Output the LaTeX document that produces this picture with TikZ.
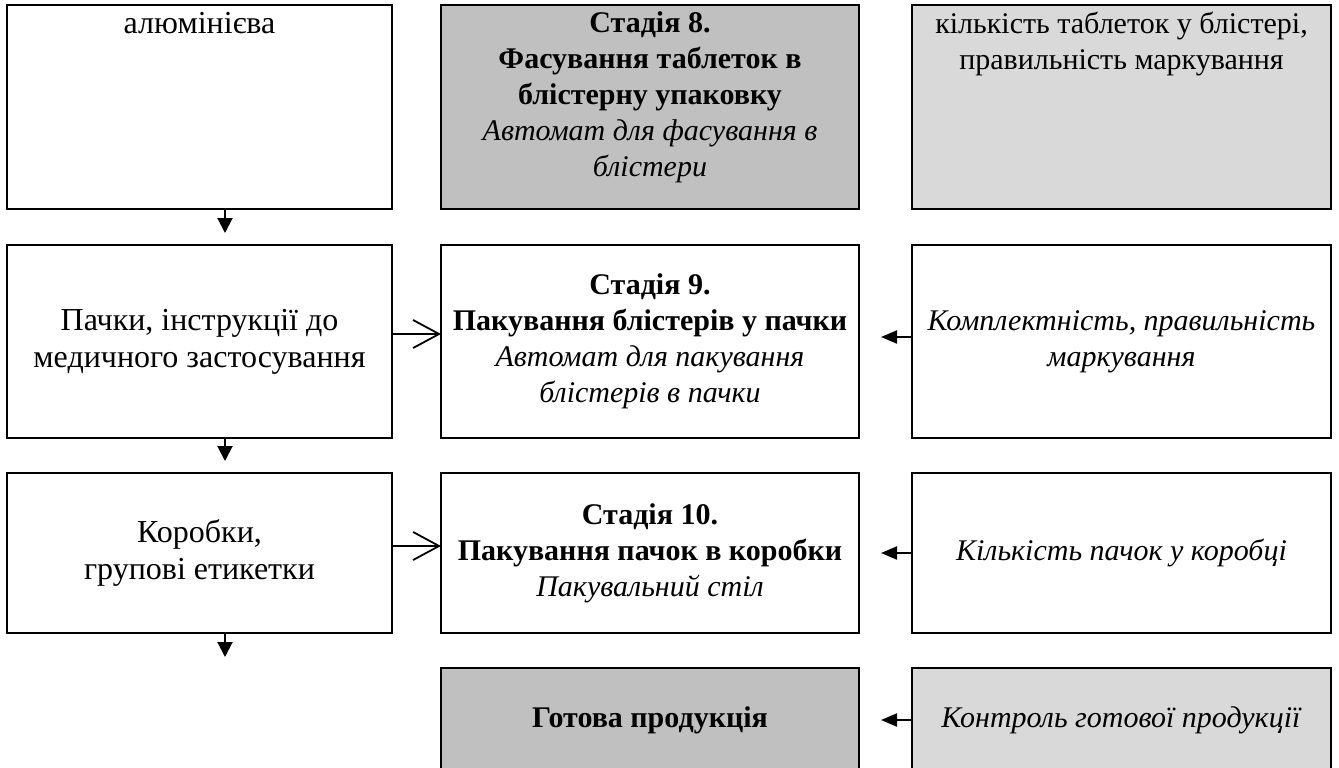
\documentclass[tikz,border=0pt]{standalone}
\usepackage{fontspec}
\setmainfont{Liberation Serif}
\usetikzlibrary{arrows.meta,positioning,calc}
\definecolor{stagegray}{RGB}{192,192,192}
\definecolor{ctrlgray}{RGB}{217,217,217}
\newcommand{\toptext}[2]{\parbox[t][95pt][t]{#1}{\centering #2}}
\tikzset{
    box/.style={draw, line width=1pt, align=center, inner xsep=2pt, inner ysep=3.5pt, outer sep=0pt, font=\fontsize{15}{18}\selectfont},
    matbox/.style={box, minimum width=192.5pt, font=\fontsize{16}{18.5}\selectfont},
    stagebox/.style={box, minimum width=209pt},
    ctrlbox/.style={box, minimum width=209.5pt},
    rowa/.style={minimum height=102pt},
    rowb/.style={minimum height=96.5pt},
    rowc/.style={minimum height=80pt},
    rowd/.style={minimum height=52pt},
    feed/.style={-{Straight Barb[length=13pt, width=14pt]}, line width=0.9pt},
    flow/.style={-{Triangle[length=7.5pt, width=7.5pt]}, line width=1pt},
    check/.style={-{Triangle[length=8pt, width=6.5pt]}, line width=1pt, shorten >=11pt}
}

\begin{document}
\begin{tikzpicture}[node distance=17.5pt]
    \useasboundingbox (0,0) rectangle (669.5pt,-383.5pt);

    \node[matbox, rowa, anchor=north west] (mat1) at (3.5pt,-2.5pt) {\toptext{185pt}{алюмінієва}};
    \node[stagebox, rowa, fill=stagegray, right=24.5pt of mat1] (st8) {\toptext{200pt}{\textbf{Стадія 8.}\\\textbf{Фасування таблеток в}\\\textbf{блістерну упаковку}\\\textit{Автомат для фасування в}\\\textit{блістери}}};
    \node[ctrlbox, rowa, fill=ctrlgray, right=26.5pt of st8] (ctl8) {\toptext{200pt}{кількість таблеток у блістері,\\правильність маркування}};

    \node[matbox, rowb, below=18pt of mat1] (mat2) {Пачки, інструкції до\\медичного застосування};
    \node[stagebox, rowb, right=24.5pt of mat2] (st9) {\textbf{Стадія 9.}\\\textbf{Пакування блістерів у пачки}\\\textit{Автомат для пакування}\\\textit{блістерів в пачки}};
    \node[ctrlbox, rowb, right=26.5pt of st9] (ctl9) {\textit{Комплектність, правильність}\\\textit{маркування}};

    \node[matbox, rowc, below=of mat2] (mat3) {Коробки,\\групові етикетки};
    \node[stagebox, rowc, right=24.5pt of mat3] (st10) {\textbf{Стадія 10.}\\\textbf{Пакування пачок в коробки}\\\textit{Пакувальний стіл}};
    \node[ctrlbox, rowc, right=26.5pt of st10] (ctl10) {\textit{Кількість пачок у коробці}};

    \node[stagebox, rowd, fill=stagegray, below=of st10] (ready) {\textbf{Готова продукція}};
    \node[ctrlbox, rowd, fill=ctrlgray, right=26.5pt of ready] (ctlready) {\textit{Контроль готової продукції}};

    % materials go down the left column
    \coordinate (matend) at ([xshift=12.75pt, yshift=-12pt]mat3.south);
    \draw[flow, shorten >=6pt] ([xshift=12.75pt]mat1.south) -- ([xshift=12.75pt]mat2.north);
    \draw[flow, shorten >=6pt] ([xshift=12.75pt]mat2.south) -- ([xshift=12.75pt]mat3.north);
    \draw[flow] ([xshift=12.75pt]mat3.south) -- (matend);

    \draw[feed] ([yshift=3.75pt]mat2.east) -- ([yshift=3.75pt]st9.west);
    \draw[feed] ([yshift=3.5pt]mat3.east) -- ([yshift=3.5pt]st10.west);

    \draw[check] ([yshift=2.25pt]ctl9.west) -- ([yshift=2.25pt]st9.east);
    \draw[check] (ctl10.west) -- (st10.east);
    \draw[check] (ctlready.west) -- (ready.east);
\end{tikzpicture}
\end{document}
